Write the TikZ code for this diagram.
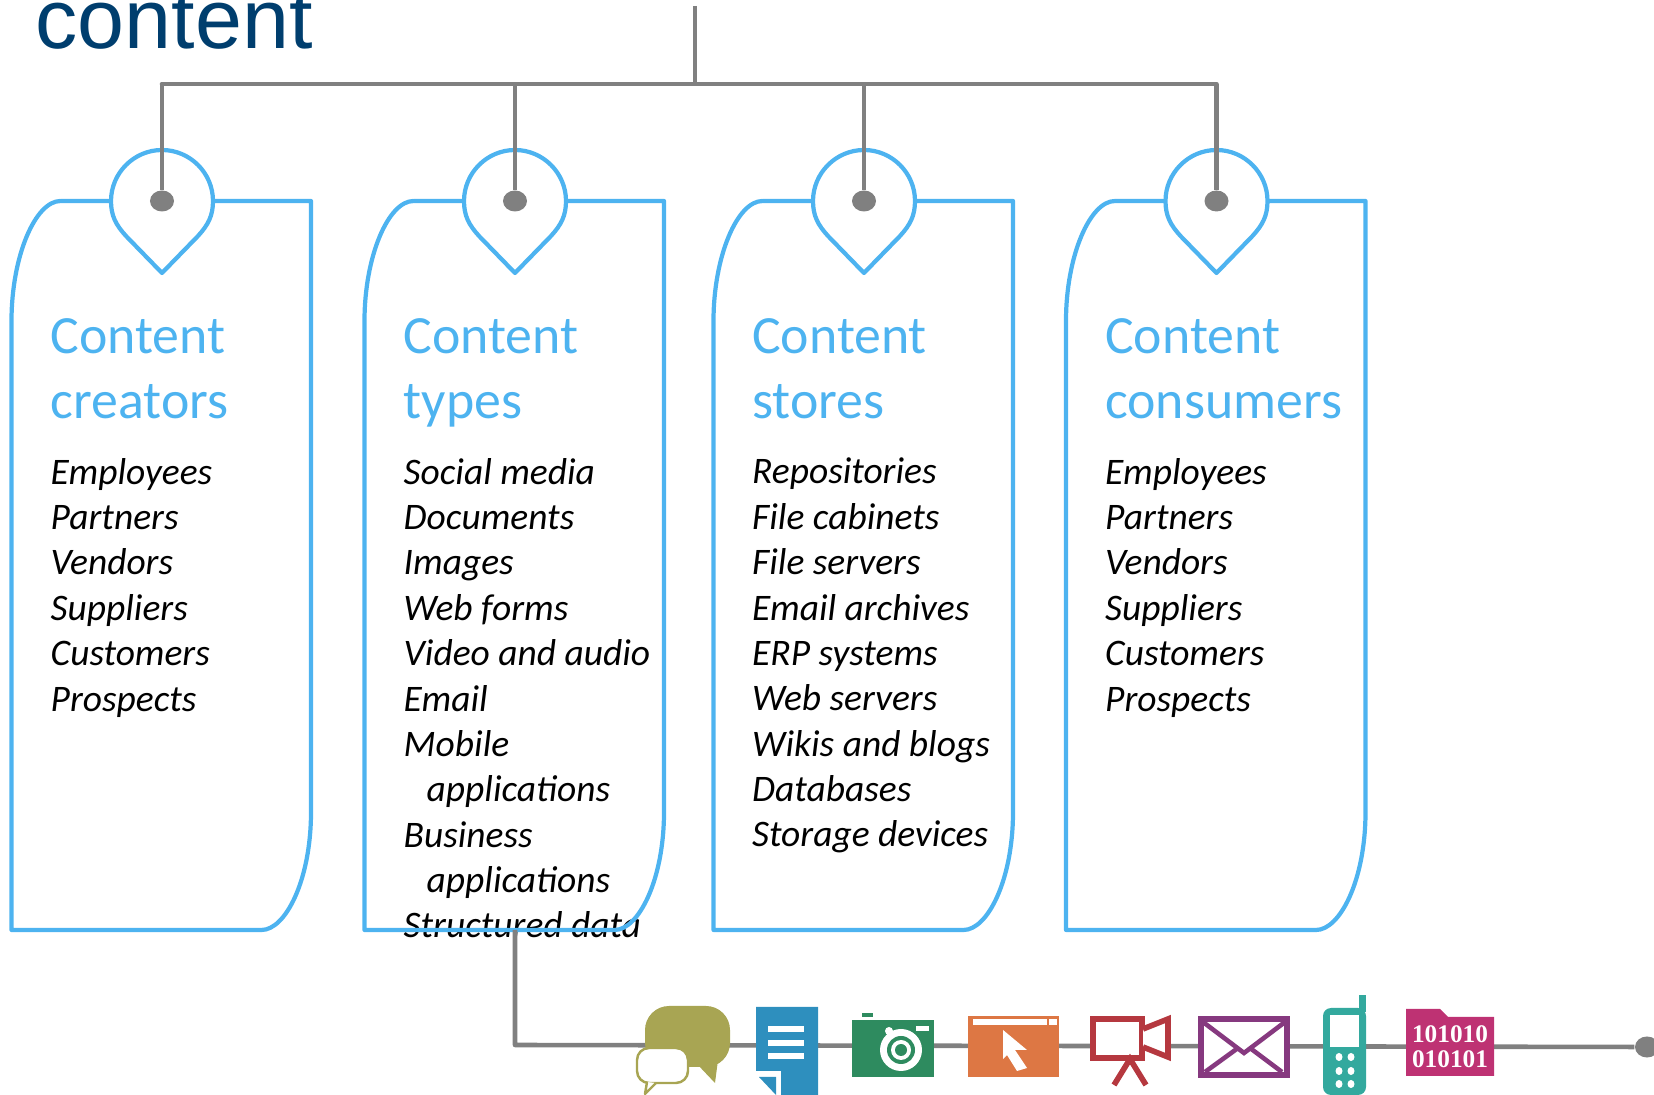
\documentclass[tikz,border=0pt]{standalone}
\usepackage{fontspec}
\setmainfont{Carlito}
\newfontfamily\titlefont{Liberation Sans}
\newfontfamily\digitfont{Liberation Serif}
\usetikzlibrary{shapes.geometric}
\definecolor{cardblue}{HTML}{4DB3F0}
\definecolor{wiregray}{HTML}{808080}
\definecolor{titleblue}{HTML}{003E6E}
\definecolor{chatolive}{HTML}{A8A553}
\definecolor{docblue}{HTML}{2E8FBE}
\definecolor{camgreen}{HTML}{2E8B5F}
\definecolor{weborange}{HTML}{DD7744}
\definecolor{videored}{HTML}{B5383F}
\definecolor{mailpurple}{HTML}{86397F}
\definecolor{phoneteal}{HTML}{33A99E}
\definecolor{datapink}{HTML}{BE3273}
\tikzset{
  wire/.style={line width=1.3pt,wiregray},
  dot/.style={ellipse,fill=wiregray,inner sep=0pt,minimum width=0.24cm,minimum height=0.21cm},
  head/.style={anchor=north west,align=left,inner sep=0pt,cardblue,
    font=\fontsize{15.3}{18.5}\selectfont,execute at begin node=\strut},
  list/.style={anchor=north west,align=left,inner sep=0pt,
    font=\fontsize{10.65}{12.9}\selectfont\itshape,execute at begin node=\strut},
  card/.pic={
    \draw[line width=1.2pt,cardblue,line join=round]
      (49,0) -- (299.5,0) -- (299.5,611) .. controls (299.5,679) and (274,729) .. (250,729)
      -- (0,729) -- (0,120) .. controls (0,55) and (24,0) .. (49,0);
    \draw[line width=1.2pt,cardblue,fill=white,line join=round]
      (150.5,72) -- (114.5,35) .. controls (104.5,24) and (99.5,15) .. (99.5,0)
      .. controls (99.5,-28) and (122.5,-51) .. (150.5,-51)
      .. controls (178.5,-51) and (201.5,-28) .. (201.5,0)
      .. controls (201.5,15) and (196.5,24) .. (186.5,35) -- cycle;
    \node[dot] (-dot) at (150.5,0) {};
    \coordinate (-foot) at (150.5,729);
  }
}
\begin{document}
\begin{tikzpicture}[x=0.01cm,y=-0.01cm]
  \useasboundingbox (0,0) rectangle (1654,1095);
  \node[anchor=base west,inner sep=0pt,titleblue,font=\fontsize{24}{28}\titlefont] (title) at (35,49) {content};

  \node[head] (headA) at (50,318) {Content\\creators};
  \node[head] (headB) at (403,318) {Content\\types};
  \node[head] (headC) at (751.5,318) {Content\\stores};
  \node[head] (headD) at (1104.5,318) {Content\\consumers};

  \node[list] (listA) at (50,457.5) {Employees\\Partners\\Vendors\\Suppliers\\Customers\\Prospects};
  \node[list] (listB) at (403,457.5) {Social media\\Documents\\Images\\Web forms\\Video and audio\\Email\\Mobile\\
    \hspace*{0.23cm}applications\\Business\\\hspace*{0.23cm}applications\\Structured data};
  \node[list] (listC) at (751.5,457.5) {Repositories\\File cabinets\\File servers\\Email archives\\ERP systems\\Web servers\\
    Wikis and blogs\\Databases\\Storage devices};
  \node[list] (listD) at (1104.5,457.5) {Employees\\Partners\\Vendors\\Suppliers\\Customers\\Prospects};

  \pic (cardA) at (11.5,201) {card};
  \pic (cardB) at (364.5,201) {card};
  \pic (cardC) at (713.5,201) {card};
  \pic (cardD) at (1066,201) {card};

  \coordinate (top) at (695,6);
  \coordinate (hub) at (695,84);
  \coordinate (barA) at (cardA-dot |- hub);
  \coordinate (barB) at (cardB-dot |- hub);
  \coordinate (barC) at (cardC-dot |- hub);
  \coordinate (barD) at (cardD-dot |- hub);
  \draw[wire] (top) -- (hub);
  \draw[wire,line cap=round] (barA) -- (barD);
  \draw[wire] (barA) -- (cardA-dot);
  \draw[wire] (barB) -- (cardB-dot);
  \draw[wire] (barC) -- (cardC-dot);
  \draw[wire] (barD) -- (cardD-dot);

  \node[dot] (end) at (1647,1047) {};
  \coordinate (elbow) at (cardB-foot |- 0,1045);
  \draw[wire,line join=round] (cardB-foot) -- (elbow) -- (end);

  % chat
  \fill[chatolive,rounded corners=0.24cm] (645,1006) rectangle (730,1067);
  \fill[chatolive] (697,1064) -- (715,1083) -- (718,1060) -- cycle;
  \draw[chatolive,line width=0.7pt,fill=white,rounded corners=0.12cm]
    (637,1048) rectangle (688,1083);
  \draw[chatolive,line width=0.7pt,fill=white,line join=round]
    (656,1083) -- (645,1094) -- (647,1082);

  % document
  \fill[docblue] (756,1007) -- (818,1007) -- (818,1095) -- (781,1095) -- (781,1071) -- (756,1071) -- cycle;
  \fill[docblue] (759,1077) -- (776,1077) -- (776,1095) -- cycle;
  \fill[white] (768,1026) rectangle (804,1032);
  \fill[white] (768,1040) rectangle (804,1046);
  \fill[white] (768,1053) rectangle (804,1059);

  % camera
  \fill[camgreen] (852,1020) rectangle (934,1077);
  \fill[camgreen] (862,1013) rectangle (873,1017);
  \fill[white] (916,1026) rectangle (929,1031);
  \fill[white] (889,1031) circle (4);
  \fill[white] (901,1050) circle (21);
  \fill[camgreen] (901,1050) circle (14);
  \fill[white] (901,1050) circle (10);
  \fill[camgreen] (901,1050) circle (6);

  % web page
  \fill[weborange] (968,1016) rectangle (1059,1077);
  \fill[white] (973,1019) rectangle (1047,1025);
  \fill[white] (1049,1019) rectangle (1057,1025);
  \fill[white] (1003,1030) -- (1027,1050) -- (1015,1050) -- (1027,1068) -- (1017,1071) -- (1007,1055) -- (1003,1059) -- cycle;

  % video
  \draw[videored,line width=1.6pt,fill=white,line join=miter]
    (1093,1019) rectangle (1142,1058);
  \draw[videored,line width=1.6pt,fill=white]
    (1143,1029) -- (1168,1019) -- (1168,1057) -- (1143,1047);
  \draw[videored,line width=1.6pt] (1114,1085) -- (1130,1059) -- (1146,1085);

  % mail
  \draw[mailpurple,line width=1.6pt,fill=white] (1201,1019) rectangle (1287,1075);
  \draw[mailpurple,line width=1.3pt] (1203,1022) -- (1244,1053) -- (1285,1022);
  \draw[mailpurple,line width=1.3pt] (1205,1072) -- (1238,1048);
  \draw[mailpurple,line width=1.3pt] (1282,1072) -- (1250,1048);

  % phone
  \fill[phoneteal] (1359,995) rectangle (1366,1012);
  \fill[phoneteal,rounded corners=0.08cm] (1323,1008) rectangle (1366,1095);
  \fill[white] (1330,1015) rectangle (1359,1047);
  \fill[white] (1339,1057) ellipse (3.5 and 4);
  \fill[white] (1351,1057) ellipse (3.5 and 4);
  \fill[white] (1339,1071) ellipse (3.5 and 4);
  \fill[white] (1351,1071) ellipse (3.5 and 4);
  \fill[white] (1339,1084) ellipse (3.5 and 4);
  \fill[white] (1351,1084) ellipse (3.5 and 4);

  % data folder
  \fill[datapink] (1406,1009) -- (1440,1009) -- (1448,1017) -- (1494,1017) -- (1494,1076) -- (1406,1076) -- cycle;
  \node[white,inner sep=0pt,align=center,font=\fontsize{7.2}{7}\digitfont\bfseries] (bits) at (1450,1047) {101010\\010101};
\end{tikzpicture}
\end{document}
